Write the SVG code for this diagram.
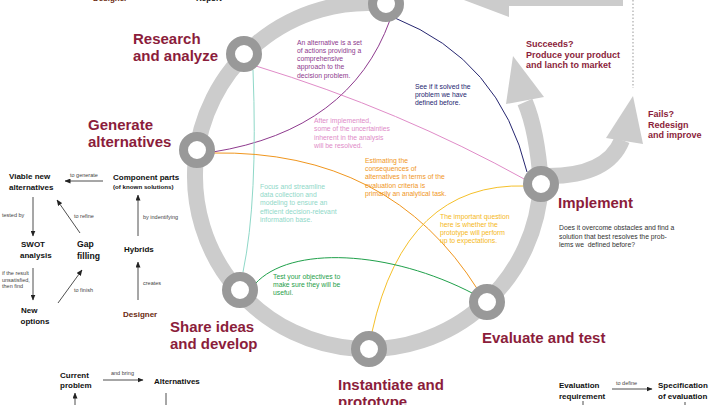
<svg xmlns="http://www.w3.org/2000/svg" width="720" height="405" viewBox="0 0 720 405">
<style>
.ring{fill:none;stroke:#cccccc;stroke-width:16}
.bar{fill:#cccccc}
.nd{fill:#ffffff;stroke:#999999;stroke-width:9}
.title{font-family:"Liberation Sans",Arial,sans-serif;font-weight:bold;font-size:15px;fill:#8b1d3b}
.sub{font-family:"Liberation Sans",Arial,sans-serif;font-weight:bold;font-size:9px;fill:#8b1d3b}
.note{font-family:"Liberation Sans",Arial,sans-serif;font-size:6.8px}
.blk{font-family:"Liberation Sans",Arial,sans-serif;font-weight:bold;font-size:8px;fill:#111111}
.sm{font-family:"Liberation Sans",Arial,sans-serif;font-weight:bold;font-size:6.2px;fill:#111111}
.lbl{font-family:"Liberation Sans",Arial,sans-serif;font-size:5.5px;fill:#444444}
.arr{fill:none;stroke:#222222;stroke-width:0.8;marker-end:url(#ah)}
.ln{fill:none;stroke-width:1}
</style>
<defs>
<marker id="ah" markerUnits="userSpaceOnUse" markerWidth="6" markerHeight="5" refX="5.5" refY="2.5" orient="auto">
<path d="M0,0 L6,2.5 L0,5 z" fill="#222222"/>
</marker>
</defs>

<!-- big ring and outgoing arrows -->
<g id="cycle">
<path class="ring" d="M 540.8 184 A 173 173 0 1 1 386.1 4"/>
<path class="ring" stroke-width="15" d="M 541 184 Q 537 130 525 102"/>
<polygon class="bar" points="513,56 506,104 544,97"/>
<path class="ring" stroke-width="15" d="M 548 176 C 585 176 612 165 622 140"/>
<polygon class="bar" points="633,96 606,138 643,144"/>
<polygon class="bar" points="456,-3 509,17 509,6 623,6 623,-20 509,-20 509,-25"/>
<line x1="633" y1="0" x2="633" y2="88" stroke="#aaaaaa" stroke-width="1.2" stroke-dasharray="1.5 2"/>
</g>

<!-- connectors (thin coloured curves) -->
<g id="connectors">
<path class="ln" stroke="#8e3a8e" d="M 390 20 Q 350 130 213 152"/>
<path class="ln" stroke="#262670" d="M 395 18 Q 500 60 527 172"/>
<path class="ln" stroke="#e08cc8" d="M 256 66 Q 400 110 526 180"/>
<path class="ln" stroke="#8fd8c8" d="M 253 70 Q 258 200 243 272"/>
<path class="ln" stroke="#f0961e" d="M 213 153 Q 390 150 478 290"/>
<path class="ln" stroke="#f5c02a" d="M 526 186 Q 405 182 372 332"/>
<path class="ln" stroke="#1fa04a" d="M 255 284 C 290 245 390 250 474 294"/>
</g>

<!-- connector notes -->
<g id="notes">
<text class="note" fill="#8e3a8e"><tspan x="297" y="44.5">An alternative is a set</tspan><tspan x="297" y="52.8">of actions providing a</tspan><tspan x="297" y="61">comprehensive</tspan><tspan x="297" y="69.2">approach to the</tspan><tspan x="297" y="77.5">decision problem.</tspan></text>
<text class="note" fill="#262670"><tspan x="415" y="88.5">See if it solved the</tspan><tspan x="415" y="96.8">problem we have</tspan><tspan x="415" y="105">defined before.</tspan></text>
<text class="note" fill="#e08cc8"><tspan x="314" y="122.5">After implemented,</tspan><tspan x="314" y="131">some of the uncertainties</tspan><tspan x="314" y="139.5">inherent in the analysis</tspan><tspan x="314" y="148">will be resolved.</tspan></text>
<text class="note" fill="#f0961e"><tspan x="365" y="163">Estimating the</tspan><tspan x="365" y="171.2">consequences of</tspan><tspan x="365" y="179.4">alternatives in terms of the</tspan><tspan x="365" y="187.6">evaluation criteria is</tspan><tspan x="365" y="195.8">primarily an analytical task.</tspan></text>
<text class="note" fill="#8fd8c8"><tspan x="260" y="189">Focus and streamline</tspan><tspan x="260" y="197.2">data collection and</tspan><tspan x="260" y="205.4">modeling to ensure an</tspan><tspan x="260" y="213.6">efficient decision-relevant</tspan><tspan x="260" y="221.8">information base.</tspan></text>
<text class="note" fill="#f5b81a"><tspan x="440" y="218.5">The important question</tspan><tspan x="440" y="226.7">here is whether the</tspan><tspan x="440" y="234.9">prototype will perform</tspan><tspan x="440" y="243.1">up to expectations.</tspan></text>
<text class="note" fill="#1fa04a"><tspan x="273" y="278.5">Test your objectives to</tspan><tspan x="273" y="286.7">make sure they will be</tspan><tspan x="273" y="294.9">useful.</tspan></text>
</g>

<!-- cycle nodes -->
<g id="node-top"><circle class="nd" cx="386" cy="4" r="13.5"/></g>
<g id="node-research"><circle class="nd" cx="244" cy="54" r="13.5"/>
<text class="title"><tspan x="133" y="43.5">Research</tspan><tspan x="133" y="60.5">and analyze</tspan></text></g>
<g id="node-generate"><circle class="nd" cx="197" cy="150" r="13.5"/>
<text class="title"><tspan x="88" y="130">Generate</tspan><tspan x="88" y="147">alternatives</tspan></text></g>
<g id="node-share"><circle class="nd" cx="240" cy="290" r="13.5"/>
<text class="title"><tspan x="170" y="332">Share ideas</tspan><tspan x="170" y="349">and develop</tspan></text></g>
<g id="node-instantiate"><circle class="nd" cx="369" cy="349" r="13.5"/>
<text class="title"><tspan x="338" y="390">Instantiate and</tspan><tspan x="338" y="407">prototype</tspan></text></g>
<g id="node-evaluate"><circle class="nd" cx="487" cy="302" r="13.5"/>
<text class="title" x="482" y="343">Evaluate and test</text></g>
<g id="node-implement"><circle class="nd" cx="541" cy="184" r="13.5"/>
<text class="title" x="558" y="208">Implement</text>
<text class="note" fill="#333333" style="white-space:pre"><tspan x="559" y="230">Does it overcome obstacles and find a</tspan><tspan x="559" y="238.5">solution that best resolves the prob-</tspan><tspan x="559" y="247">lems we  defined before?</tspan></text></g>
<g id="node-succeeds"><text class="sub"><tspan x="526" y="47">Succeeds?</tspan><tspan x="526" y="57.5">Produce your product</tspan><tspan x="526" y="68">and lanch to market</tspan></text></g>
<g id="node-fails"><text class="sub"><tspan x="648" y="117">Fails?</tspan><tspan x="648" y="127.5">Redesign</tspan><tspan x="648" y="138">and improve</tspan></text></g>

<!-- top cut-off labels -->
<g id="node-designer-top"><text class="blk" style="fill:#6b2a10" x="93" y="0.5">Designer</text></g>
<g id="node-report-top"><text class="blk" x="196" y="0.5">Report</text></g>

<!-- left diagram -->
<g id="node-viable"><text class="blk"><tspan x="9" y="179">Viable new</tspan><tspan x="9" y="190">alternatives</tspan></text></g>
<g id="node-component"><text class="blk" x="113" y="180">Component parts</text><text class="sm" x="113" y="189">(of known solutions)</text></g>
<g id="node-swot"><text class="blk"><tspan x="21" y="246.5">SWOT</tspan><tspan x="20" y="257.5">analysis</tspan></text></g>
<g id="node-gap"><text class="blk" style="font-size:8.6px"><tspan x="77" y="247">Gap</tspan><tspan x="77" y="259">filling</tspan></text></g>
<g id="node-hybrids"><text class="blk" x="124" y="252">Hybrids</text></g>
<g id="node-new"><text class="blk"><tspan x="21" y="313">New</tspan><tspan x="20.5" y="323.5">options</tspan></text></g>
<g id="node-designer"><text class="blk" style="fill:#6b2a10" x="123" y="316.5">Designer</text></g>
<g id="node-current"><text class="blk"><tspan x="60" y="377.5">Current</tspan><tspan x="60" y="388">problem</tspan></text></g>
<g id="node-alternatives"><text class="blk" x="154" y="383.5">Alternatives</text></g>
<g id="node-evalreq"><text class="blk"><tspan x="559" y="387.5">Evaluation</tspan><tspan x="559" y="398.5">requirement</tspan></text></g>
<g id="node-spec"><text class="blk"><tspan x="658" y="387.5">Specification</tspan><tspan x="658" y="398.5">of evaluation</tspan></text></g>

<g id="small-connectors">
<line class="arr" x1="103" y1="181" x2="65" y2="181"/>
<line class="arr" x1="33" y1="197" x2="33" y2="236"/>
<line class="arr" x1="80" y1="233" x2="57" y2="200"/>
<line class="arr" x1="138" y1="236" x2="138" y2="195"/>
<line class="arr" x1="33" y1="268" x2="33" y2="300"/>
<line class="arr" x1="58" y1="303" x2="82" y2="270"/>
<line class="arr" x1="138" y1="300" x2="138" y2="262"/>
<line class="arr" x1="103" y1="380" x2="143" y2="380"/>
<line class="arr" x1="75" y1="406" x2="75" y2="393"/>
<line x1="166" y1="393" x2="166" y2="405" stroke="#222222" stroke-width="0.8"/>
<line class="arr" x1="612" y1="389" x2="652" y2="389"/>
<line x1="583" y1="401" x2="583" y2="405" stroke="#222222" stroke-width="0.8"/>
<line x1="685" y1="402" x2="685" y2="405" stroke="#222222" stroke-width="0.8"/>
<text class="lbl" x="70" y="177">to generate</text>
<text class="lbl" x="2" y="217">tested by</text>
<text class="lbl" x="74" y="218">to refine</text>
<text class="lbl" x="143" y="219">by indentifying</text>
<text class="lbl"><tspan x="2" y="275">if the result</tspan><tspan x="2" y="281.5">unsatisfied,</tspan><tspan x="2" y="288">then find</tspan></text>
<text class="lbl" x="74" y="291.5">to finish</text>
<text class="lbl" x="143" y="284.5">creates</text>
<text class="lbl" x="111" y="375">and bring</text>
<text class="lbl" x="616" y="384.5">to define</text>
</g>
</svg>
